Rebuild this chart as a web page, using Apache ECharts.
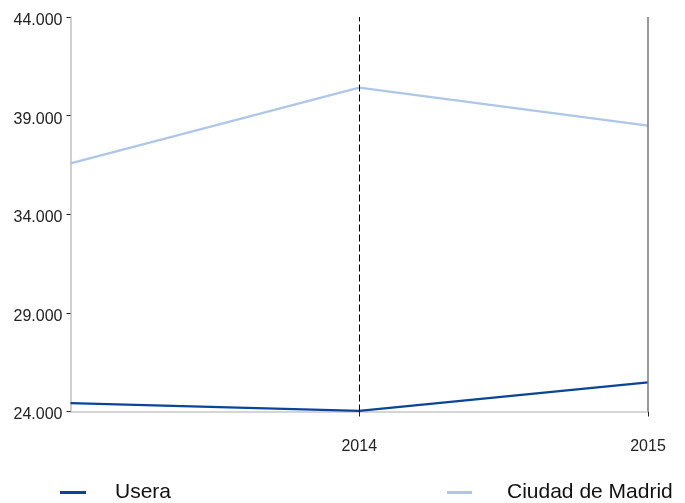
<!DOCTYPE html>
<html>
<head>
<meta charset="utf-8">
<script src="https://cdn.jsdelivr.net/npm/echarts@6/dist/echarts.min.js"></script>
<style>
html,body{margin:0;padding:0;background:#fff;}
#chart{width:685px;height:503px;}
</style>
</head>
<body>
<div id="chart"></div>
<script>
var categories = ['', '2014', '2015'];
var useraValues = [24420, 24030, 25480];
var madridValues = [36580, 40420, 38490];
var seriesNames = ['Usera', 'Ciudad de Madrid'];
var yMin = 24000, yMax = 44000, yInterval = 5000;

function fmt(v){ return String(v).replace(/\B(?=(\d{3})+(?!\d))/g, '.'); }

var chart = echarts.init(document.getElementById('chart'), null, {renderer:'canvas'});
chart.setOption({
  animation: false,
  backgroundColor: '#fff',
  textStyle: {fontFamily: 'Liberation Sans, Arial, sans-serif'},
  grid: {left: 70.5, right: 37, top: 17, bottom: 91.5, containLabel: false},
  legend: [
    {data: [seriesNames[0]], left: 55, top: 477, icon: 'rect', itemWidth: 26, itemHeight: 3,
     textStyle: {fontSize: 21, color: '#111', padding: [0,0,0,24]}},
    {data: [seriesNames[1]], left: 442, top: 477, icon: 'rect', itemWidth: 25, itemHeight: 3,
     textStyle: {fontSize: 21, color: '#111', padding: [0,0,0,30]}}
  ],
  xAxis: {
    type: 'category', data: categories, boundaryGap: false,
    axisLine: {lineStyle: {color: '#c8c8c8', width: 1.5}},
    axisTick: {show: true, length: 5, lineStyle: {color: '#222', width: 1},
      interval: function(i){ return i > 0; }},
    axisLabel: {fontSize: 16, color: '#222', margin: 27, interval: 0},
    splitLine: {show: false}
  },
  yAxis: {
    type: 'value', min: yMin, max: yMax, interval: yInterval,
    axisLine: {show: true, lineStyle: {color: '#c0c0c0', width: 1.5}},
    axisTick: {show: true, length: 4, lineStyle: {color: '#222'}},
    axisLabel: {fontSize: 16, color: '#222', margin: 8, formatter: fmt,
      verticalAlign: 'top', lineHeight: 7},
    splitLine: {show: false}
  },
  series: [
    {name: seriesNames[0], type: 'line', data: useraValues, showSymbol: false, symbol: 'none',
     lineStyle: {color: '#0a4599', width: 2.2}, itemStyle: {color: '#0a4599'},
     markLine: {silent: true, symbol: 'none', label: {show: false},
       data: [
         {xAxis: '2014', lineStyle: {color: '#000', width: 1, type: [7,3]}},
         {xAxis: '2015', lineStyle: {color: '#777', width: 1.5, type: 'solid'}}
       ]}},
    {name: seriesNames[1], type: 'line', data: madridValues, showSymbol: false, symbol: 'none',
     lineStyle: {color: '#aec6e8', width: 2.2}, itemStyle: {color: '#aec6e8'}}
  ]
});
</script>
</body>
</html>
